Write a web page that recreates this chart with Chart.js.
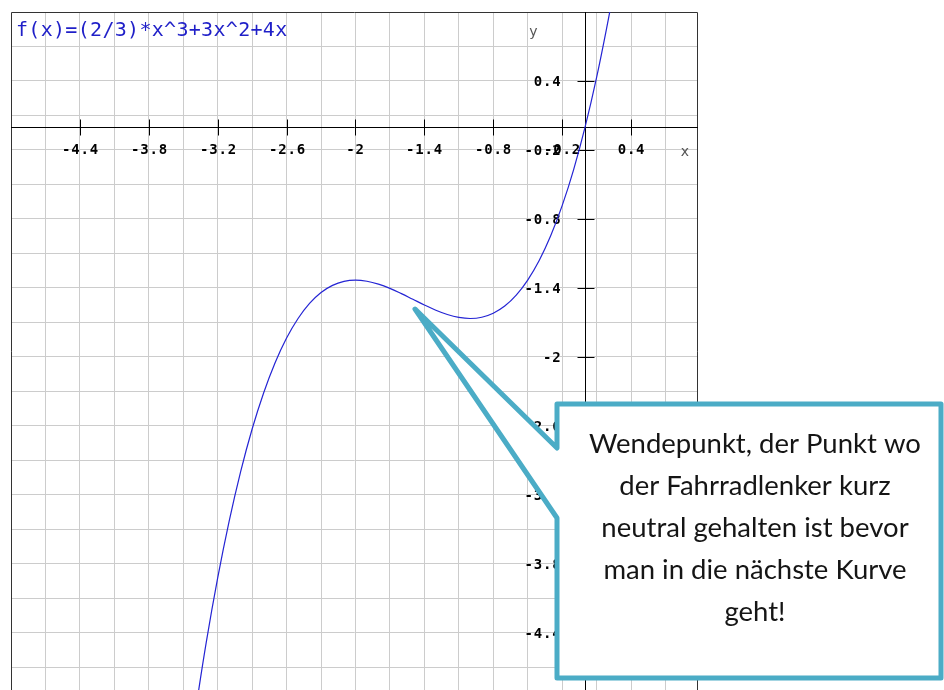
<!DOCTYPE html>
<html>
<head>
<meta charset="utf-8">
<style>
  html, body { margin: 0; padding: 0; background: #fff; }
  #wrap { width: 944px; height: 690px; }
</style>
<script src="https://cdn.jsdelivr.net/npm/chart.js@4"></script>
</head>
<body>
<div id="wrap"><canvas id="FuncChart"></canvas></div>
<script>
// curve points
const xValues = [-3.4, -3.3, -3.2, -3.1, -3.0, -2.9, -2.8, -2.7, -2.6, -2.5, -2.4, -2.3, -2.2, -2.1, -2.0,
    -1.9, -1.8, -1.7, -1.6, -1.5, -1.4, -1.3, -1.2, -1.1, -1.0, -0.9, -0.8, -0.7, -0.6, -0.5,
    -0.4, -0.3, -0.2, -0.1, 0.0, 0.1, 0.2, 0.25];
const yValues = [-5.123, -4.488, -3.925, -3.431, -3.0, -2.629, -2.315, -2.052, -1.837, -1.667, -1.536, -1.441, -1.379, -1.344, -1.333,
    -1.343, -1.368, -1.405, -1.451, -1.5, -1.549, -1.595, -1.632, -1.657, -1.667, -1.656, -1.621, -1.559, -1.464, -1.333,
    -1.163, -0.948, -0.685, -0.371, 0.0, 0.431, 0.925, 1.198];

// grid every 0.3, labels every 0.6
const gridX = [-4.7, -4.4, -4.1, -3.8, -3.5, -3.2, -2.9, -2.6, -2.3, -2.0, -1.7, -1.4, -1.1, -0.8, -0.5, -0.2, 0.1, 0.4, 0.7];
const gridY = [0.7, 0.4, 0.1, -0.2, -0.5, -0.8, -1.1, -1.4, -1.7, -2.0, -2.3, -2.6, -2.9, -3.2, -3.5, -3.8, -4.1, -4.4, -4.7];
const xTickLabels = ["-4.4", "-3.8", "-3.2", "-2.6", "-2", "-1.4", "-0.8", "-0.2", "0.4"];
const yTickLabels = ["0.4", "-0.2", "-0.8", "-1.4", "-2", "-2.6", "-3.2", "-3.8", "-4.4"];

const titleText = "f(x)=(2/3)*x^3+3x^2+4x";
const calloutLines = ["Wendepunkt, der Punkt wo", "der Fahrradlenker kurz", "neutral gehalten ist bevor", "man in die nächste Kurve", "geht!"];

const points = xValues.map((x, i) => ({ x: x, y: yValues[i] }));

const axesPlugin = {
    id: "axesPlugin",
    beforeDatasetsDraw(chart) {
        const ctx = chart.ctx;
        const xs = chart.scales.x;
        const ys = chart.scales.y;
        const { left, right, top, bottom } = chart.chartArea;
        const x0 = Math.round(xs.getPixelForValue(0)) + 0.5;
        const y0 = Math.round(ys.getPixelForValue(0)) + 0.5;

        ctx.save();
        // frame
        ctx.strokeStyle = "#333";
        ctx.lineWidth = 1;
        ctx.beginPath();
        ctx.moveTo(left + 0.5, bottom);
        ctx.lineTo(left + 0.5, top + 0.5);
        ctx.lineTo(right - 0.5, top + 0.5);
        ctx.lineTo(right - 0.5, bottom);
        ctx.stroke();

        // axes
        ctx.strokeStyle = "#000";
        ctx.beginPath();
        ctx.moveTo(left, y0);
        ctx.lineTo(right, y0);
        ctx.moveTo(x0, top);
        ctx.lineTo(x0, bottom);
        ctx.stroke();

        ctx.font = "bold 14px 'DejaVu Sans Mono'";
        ctx.letterSpacing = "0.8px";
        ctx.fillStyle = "#000";

        // x ticks + labels
        ctx.textAlign = "center";
        ctx.textBaseline = "middle";
        xTickLabels.forEach(lbl => {
            const px = Math.round(xs.getPixelForValue(parseFloat(lbl))) + 0.5;
            ctx.beginPath();
            ctx.moveTo(px, y0 - 8);
            ctx.lineTo(px, y0 + 8);
            ctx.stroke();
            ctx.fillText(lbl, px, y0 + 23);
        });

        // y ticks + labels
        ctx.textAlign = "right";
        yTickLabels.forEach(lbl => {
            const py = Math.round(ys.getPixelForValue(parseFloat(lbl))) + 0.5;
            ctx.beginPath();
            ctx.moveTo(x0 - 8, py);
            ctx.lineTo(x0 + 9, py);
            ctx.stroke();
            ctx.fillText(lbl, x0 - 24, py + 1);
        });

        // axis names
        ctx.letterSpacing = "0px";
        ctx.font = "14px 'DejaVu Sans'";
        ctx.fillStyle = "#555";
        ctx.textAlign = "center";
        ctx.fillText("x", right - 13, y0 + 25);
        ctx.fillText("y", x0 - 52, top + 20);

        // function label
        ctx.font = "20px 'DejaVu Sans Mono'";
        ctx.letterSpacing = "0.3px";
        ctx.fillStyle = "#1f1fc8";
        ctx.textAlign = "left";
        ctx.fillText(titleText, left + 5, top + 19);
        ctx.restore();
    },
    afterDraw(chart) {
        // speech-bubble callout
        const ctx = chart.ctx;
        ctx.save();
        ctx.beginPath();
        ctx.moveTo(557, 404);
        ctx.lineTo(941, 404);
        ctx.lineTo(941, 678);
        ctx.lineTo(557, 678);
        ctx.lineTo(557, 518);
        ctx.lineTo(415, 309);
        ctx.lineTo(557, 448);
        ctx.closePath();
        ctx.fillStyle = "#fff";
        ctx.fill();
        ctx.lineWidth = 5;
        ctx.lineJoin = "round";
        ctx.strokeStyle = "#4bacc6";
        ctx.stroke();

        ctx.fillStyle = "#151515";
        ctx.font = "27.5px Lato";
        ctx.textAlign = "center";
        ctx.textBaseline = "middle";
        calloutLines.forEach((line, i) => {
            ctx.fillText(line, 755, 444 + i * 42);
        });
        ctx.restore();
    },
};

function FuncChart() {
    const ctx = document.getElementById("FuncChart");

    new Chart(ctx, {
        type: "scatter",
        data: {
            datasets: [
                {
                    label: "f(x)",
                    data: points,
                    showLine: true,
                    borderColor: "#2424d4",
                    borderWidth: 1.2,
                    pointRadius: 0,
                    tension: 0.4,
                    fill: false,
                },
            ],
        },
        options: {
            responsive: true,
            maintainAspectRatio: false,
            animation: false,
            layout: {
                padding: { left: 11, top: 12, right: 246, bottom: 0 },
            },
            plugins: {
                legend: { display: false },
                tooltip: { enabled: false },
            },
            scales: {
                x: {
                    type: "linear",
                    min: -5.0,
                    max: 0.983,
                    afterBuildTicks: (scale) => { scale.ticks = gridX.map(v => ({ value: v })); },
                    ticks: { display: false },
                    grid: { color: "#cccccc", lineWidth: 1, drawTicks: false },
                    border: { display: false },
                },
                y: {
                    type: "linear",
                    min: -4.9,
                    max: 1.0,
                    afterBuildTicks: (scale) => { scale.ticks = gridY.map(v => ({ value: v })); },
                    ticks: { display: false },
                    grid: { color: "#cccccc", lineWidth: 1, drawTicks: false },
                    border: { display: false },
                },
            },
        },
        plugins: [axesPlugin],
    });
}

FuncChart();
</script>
</body>
</html>
